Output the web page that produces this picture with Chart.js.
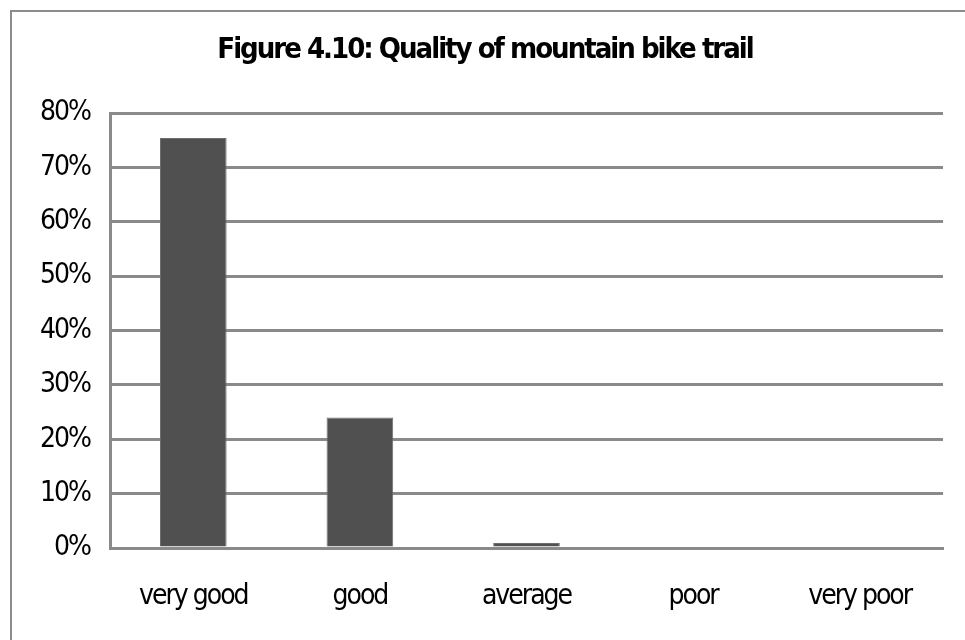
<!DOCTYPE html>
<html>
<head>
<meta charset="utf-8">
<script src="https://cdn.jsdelivr.net/npm/chart.js@4/dist/chart.umd.min.js"></script>
<style>
  html, body { margin: 0; padding: 0; background: #fff; overflow: hidden; }
  .frame {
    position: absolute; left: 10px; top: 10px; width: 3000px; height: 3000px;
    border-left: 2px solid #8c8c8c; border-top: 2px solid #8c8c8c;
  }
  .wrap { position: absolute; left: 0; top: 0; width: 965px; height: 640px; }
</style>
</head>
<body>
<div class="frame"></div>
<div class="wrap"><canvas id="qualityChart" width="965" height="640"></canvas></div>
<script>
// Chart values
const categories = ['very good', 'good', 'average', 'poor', 'very poor'];
const shares = [0.754, 0.24, 0.009, 0, 0];
const yTicks = [0, 0.1, 0.2, 0.3, 0.4, 0.5, 0.6, 0.7, 0.8];
const chartTitle = 'Figure 4.10: Quality of mountain bike trail';

const narrowFont = "'Liberation Sans Narrow', 'Arial Narrow', 'DejaVu Sans Condensed', sans-serif";
const gridGray = '#8a8a8a';

// tighter letters, like the original narrow text
const tightText = {
  id: 'tightText',
  beforeDraw(chart) {
    chart.ctx.letterSpacing = '-2px';
  }
};

const ctx = document.getElementById('qualityChart').getContext('2d');
new Chart(ctx, {
  type: 'bar',
  data: {
    labels: categories,
    datasets: [{
      data: shares,
      backgroundColor: '#505050',
      borderColor: '#6e6e6e',
      borderWidth: 1,
      barPercentage: 0.4,
      categoryPercentage: 1
    }]
  },
  plugins: [tightText],
  options: {
    responsive: false,
    animation: false,
    devicePixelRatio: 1,
    layout: { padding: { left: 27, right: 22, top: 0, bottom: 0 } },
    plugins: {
      legend: { display: false },
      tooltip: { enabled: false },
      title: {
        display: true,
        text: chartTitle,
        color: '#000',
        font: { family: narrowFont, size: 29, weight: 'bold', lineHeight: 1.2 },
        padding: { top: 33, bottom: 45.2 }
      }
    },
    scales: {
      x: {
        grid: { display: false, drawTicks: false },
        border: { display: true, color: gridGray, width: 3 },
        ticks: {
          color: '#000',
          padding: 32,
          maxRotation: 0,
          font: { family: narrowFont, size: 28 }
        },
        afterFit: scale => { scale.height = 92; }
      },
      y: {
        min: 0,
        max: 0.8,
        afterBuildTicks: scale => { scale.ticks = yTicks.map(v => ({ value: v })); },
        grid: { color: gridGray, lineWidth: 3, drawTicks: false },
        border: { display: true, color: gridGray, width: 3 },
        ticks: {
          color: '#000',
          padding: 20,
          font: { family: narrowFont, size: 28 },
          callback: v => Math.round(v * 100) + '%'
        },
        afterFit: scale => { scale.width = 83; }
      }
    }
  }
});
</script>
</body>
</html>
